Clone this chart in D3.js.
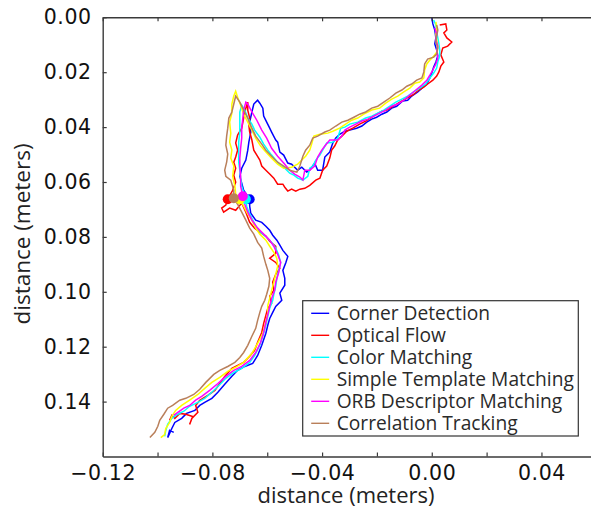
<!DOCTYPE html>
<html>
<head>
<meta charset="utf-8">
<script src="https://d3js.org/d3.v7.min.js"></script>
<style>
  body { margin: 0; background: #fff; }
  svg { display: block; }
</style>
</head>
<body>
<div id="chart"></div>
<script>
const w = 591;
const h = 510;
const axisColor = "#3a3a3a";
const textColor = "#222";

// distances in meters
const seriesNames = ["Corner Detection", "Optical Flow", "Color Matching",
    "Simple Template Matching", "ORB Descriptor Matching", "Correlation Tracking"];
const seriesColors = ["#0000ff", "#ff0000", "#00ffff", "#ffff00", "#ff00ff", "#b97f5a"];

const cornerDetection = [
    [0.0000, 0.0000], [0.0004, 0.0024], [0.0011, 0.0046], [0.0015, 0.0075], [0.0011, 0.0097],
    [0.0018, 0.0119], [0.0022, 0.0141], [0.0015, 0.0163], [0.0007, 0.0181], [0.0000, 0.0203],
    [-0.0007, 0.0221], [-0.0018, 0.0243], [-0.0036, 0.0258], [-0.0051, 0.0272], [-0.0073, 0.0287],
    [-0.0088, 0.0302], [-0.0106, 0.0305], [-0.0128, 0.0324], [-0.0146, 0.0331], [-0.0164, 0.0345],
    [-0.0182, 0.0353], [-0.0201, 0.0364], [-0.0219, 0.0371], [-0.0237, 0.0382], [-0.0255, 0.0396],
    [-0.0274, 0.0404], [-0.0299, 0.0411], [-0.0317, 0.0415], [-0.0336, 0.0426], [-0.0350, 0.0440],
    [-0.0361, 0.0458], [-0.0372, 0.0491], [-0.0390, 0.0509], [-0.0398, 0.0557], [-0.0416, 0.0557],
    [-0.0427, 0.0531], [-0.0445, 0.0557], [-0.0456, 0.0564], [-0.0474, 0.0546], [-0.0489, 0.0557],
    [-0.0511, 0.0535], [-0.0525, 0.0531], [-0.0540, 0.0502], [-0.0554, 0.0491], [-0.0562, 0.0455],
    [-0.0569, 0.0447], [-0.0584, 0.0418], [-0.0591, 0.0404], [-0.0602, 0.0382], [-0.0613, 0.0360],
    [-0.0616, 0.0331], [-0.0627, 0.0313], [-0.0635, 0.0302], [-0.0649, 0.0316], [-0.0656, 0.0345],
    [-0.0664, 0.0382], [-0.0660, 0.0418], [-0.0667, 0.0455], [-0.0671, 0.0484], [-0.0678, 0.0520],
    [-0.0693, 0.0550], [-0.0700, 0.0579], [-0.0693, 0.0604], [-0.0686, 0.0630], [-0.0664, 0.0663],
    [-0.0664, 0.0688], [-0.0660, 0.0714], [-0.0642, 0.0739], [-0.0620, 0.0747], [-0.0605, 0.0761],
    [-0.0591, 0.0776], [-0.0580, 0.0794], [-0.0565, 0.0812], [-0.0554, 0.0830], [-0.0543, 0.0849],
    [-0.0525, 0.0871], [-0.0532, 0.0893], [-0.0543, 0.0922], [-0.0536, 0.0951], [-0.0536, 0.0976],
    [-0.0554, 0.1005], [-0.0547, 0.1031], [-0.0569, 0.1053], [-0.0580, 0.1075], [-0.0591, 0.1097],
    [-0.0598, 0.1122], [-0.0605, 0.1151], [-0.0620, 0.1195], [-0.0635, 0.1232], [-0.0653, 0.1261],
    [-0.0682, 0.1272], [-0.0708, 0.1286], [-0.0729, 0.1308], [-0.0755, 0.1337], [-0.0780, 0.1366],
    [-0.0802, 0.1388], [-0.0828, 0.1403], [-0.0846, 0.1414], [-0.0864, 0.1432], [-0.0894, 0.1443],
    [-0.0912, 0.1461], [-0.0937, 0.1476], [-0.0948, 0.1498], [-0.0956, 0.1516], [-0.0963, 0.1531],
    [-0.0956, 0.1505], [-0.0941, 0.1512]
];

const opticalFlow = [
    [0.0029, 0.0028], [0.0051, 0.0024], [0.0055, 0.0046], [0.0044, 0.0057], [0.0055, 0.0075],
    [0.0073, 0.0090], [0.0058, 0.0105], [0.0040, 0.0112], [0.0033, 0.0137], [0.0044, 0.0163],
    [0.0033, 0.0178], [0.0026, 0.0199], [0.0018, 0.0214], [0.0004, 0.0229], [-0.0015, 0.0243],
    [-0.0029, 0.0254], [-0.0047, 0.0265], [-0.0069, 0.0283], [-0.0091, 0.0294], [-0.0109, 0.0305],
    [-0.0128, 0.0316], [-0.0146, 0.0327], [-0.0164, 0.0338], [-0.0182, 0.0342], [-0.0201, 0.0353],
    [-0.0219, 0.0364], [-0.0241, 0.0378], [-0.0263, 0.0389], [-0.0288, 0.0404], [-0.0310, 0.0415],
    [-0.0328, 0.0433], [-0.0343, 0.0447], [-0.0354, 0.0469], [-0.0365, 0.0484], [-0.0372, 0.0513],
    [-0.0383, 0.0542], [-0.0398, 0.0557], [-0.0408, 0.0586], [-0.0423, 0.0593], [-0.0445, 0.0612],
    [-0.0463, 0.0623], [-0.0481, 0.0626], [-0.0496, 0.0633], [-0.0511, 0.0626], [-0.0525, 0.0633],
    [-0.0536, 0.0619], [-0.0543, 0.0608], [-0.0562, 0.0608], [-0.0576, 0.0586], [-0.0591, 0.0571],
    [-0.0605, 0.0557], [-0.0620, 0.0542], [-0.0627, 0.0520], [-0.0638, 0.0502], [-0.0649, 0.0484],
    [-0.0656, 0.0447], [-0.0664, 0.0418], [-0.0667, 0.0393], [-0.0664, 0.0367], [-0.0671, 0.0338],
    [-0.0671, 0.0309], [-0.0678, 0.0331], [-0.0686, 0.0367], [-0.0693, 0.0404], [-0.0708, 0.0429],
    [-0.0715, 0.0458], [-0.0708, 0.0484], [-0.0715, 0.0509], [-0.0722, 0.0528], [-0.0715, 0.0550],
    [-0.0722, 0.0575], [-0.0715, 0.0601], [-0.0726, 0.0630], [-0.0744, 0.0663], [-0.0751, 0.0684],
    [-0.0766, 0.0695], [-0.0759, 0.0710], [-0.0737, 0.0695], [-0.0715, 0.0703], [-0.0693, 0.0677],
    [-0.0678, 0.0710], [-0.0664, 0.0747], [-0.0646, 0.0768], [-0.0627, 0.0783], [-0.0605, 0.0797],
    [-0.0591, 0.0816], [-0.0569, 0.0834], [-0.0569, 0.0860], [-0.0591, 0.0878], [-0.0569, 0.0893],
    [-0.0554, 0.0914], [-0.0569, 0.0936], [-0.0580, 0.0965], [-0.0576, 0.0995], [-0.0591, 0.1016],
    [-0.0584, 0.1042], [-0.0598, 0.1060], [-0.0605, 0.1086], [-0.0613, 0.1115], [-0.0620, 0.1148],
    [-0.0635, 0.1184], [-0.0646, 0.1213], [-0.0664, 0.1235], [-0.0686, 0.1257], [-0.0708, 0.1268],
    [-0.0729, 0.1279], [-0.0755, 0.1308], [-0.0773, 0.1334], [-0.0791, 0.1359], [-0.0817, 0.1377],
    [-0.0846, 0.1395], [-0.0861, 0.1414], [-0.0853, 0.1439], [-0.0875, 0.1461], [-0.0883, 0.1483],
    [-0.0872, 0.1454], [-0.0897, 0.1446], [-0.0919, 0.1443], [-0.0937, 0.1461], [-0.0948, 0.1450],
    [-0.0956, 0.1468]
];

const colorMatching = [
    [0.0007, 0.0010], [0.0015, 0.0028], [0.0018, 0.0054], [0.0022, 0.0075], [0.0026, 0.0097],
    [0.0029, 0.0119], [0.0029, 0.0141], [0.0022, 0.0163], [0.0018, 0.0185], [0.0007, 0.0203],
    [-0.0007, 0.0221], [-0.0022, 0.0243], [-0.0044, 0.0258], [-0.0066, 0.0272], [-0.0088, 0.0287],
    [-0.0109, 0.0298], [-0.0131, 0.0309], [-0.0153, 0.0324], [-0.0175, 0.0338], [-0.0197, 0.0349],
    [-0.0219, 0.0360], [-0.0241, 0.0367], [-0.0270, 0.0382], [-0.0299, 0.0389], [-0.0317, 0.0400],
    [-0.0332, 0.0404], [-0.0343, 0.0440], [-0.0361, 0.0455], [-0.0383, 0.0458], [-0.0398, 0.0484],
    [-0.0408, 0.0502], [-0.0423, 0.0520], [-0.0434, 0.0542], [-0.0445, 0.0550], [-0.0452, 0.0579],
    [-0.0470, 0.0593], [-0.0489, 0.0586], [-0.0503, 0.0575], [-0.0518, 0.0568], [-0.0536, 0.0550],
    [-0.0554, 0.0539], [-0.0569, 0.0520], [-0.0584, 0.0502], [-0.0598, 0.0484], [-0.0613, 0.0462],
    [-0.0627, 0.0437], [-0.0646, 0.0411], [-0.0656, 0.0389], [-0.0671, 0.0367], [-0.0682, 0.0338],
    [-0.0693, 0.0320], [-0.0700, 0.0345], [-0.0700, 0.0382], [-0.0700, 0.0418], [-0.0704, 0.0455],
    [-0.0704, 0.0491], [-0.0704, 0.0528], [-0.0700, 0.0557], [-0.0697, 0.0586], [-0.0693, 0.0615],
    [-0.0678, 0.0663], [-0.0675, 0.0688], [-0.0667, 0.0710], [-0.0656, 0.0732], [-0.0642, 0.0761],
    [-0.0620, 0.0787], [-0.0598, 0.0805], [-0.0584, 0.0820], [-0.0569, 0.0841], [-0.0558, 0.0867],
    [-0.0551, 0.0893], [-0.0558, 0.0922], [-0.0565, 0.0951], [-0.0569, 0.0980], [-0.0576, 0.1009],
    [-0.0580, 0.1031], [-0.0591, 0.1060], [-0.0598, 0.1089], [-0.0605, 0.1122], [-0.0613, 0.1151],
    [-0.0627, 0.1195], [-0.0646, 0.1232], [-0.0664, 0.1257], [-0.0693, 0.1279], [-0.0722, 0.1294],
    [-0.0751, 0.1315], [-0.0780, 0.1345], [-0.0802, 0.1366], [-0.0828, 0.1388], [-0.0853, 0.1403],
    [-0.0883, 0.1417], [-0.0904, 0.1435], [-0.0926, 0.1446], [-0.0948, 0.1461], [-0.0963, 0.1483],
    [-0.0970, 0.1505], [-0.0974, 0.1527]
];

const simpleTemplate = [
    [0.0015, 0.0017], [0.0018, 0.0039], [0.0015, 0.0061], [0.0018, 0.0083], [0.0022, 0.0105],
    [0.0018, 0.0127], [0.0004, 0.0145], [-0.0007, 0.0156], [-0.0018, 0.0170], [-0.0026, 0.0192],
    [-0.0029, 0.0221], [-0.0044, 0.0236], [-0.0062, 0.0240], [-0.0080, 0.0258], [-0.0102, 0.0272],
    [-0.0124, 0.0287], [-0.0146, 0.0298], [-0.0168, 0.0313], [-0.0190, 0.0331], [-0.0219, 0.0338],
    [-0.0248, 0.0353], [-0.0270, 0.0367], [-0.0292, 0.0375], [-0.0314, 0.0389], [-0.0336, 0.0404],
    [-0.0361, 0.0415], [-0.0379, 0.0422], [-0.0408, 0.0426], [-0.0430, 0.0433], [-0.0438, 0.0462],
    [-0.0445, 0.0484], [-0.0460, 0.0506], [-0.0474, 0.0520], [-0.0489, 0.0535], [-0.0511, 0.0546],
    [-0.0540, 0.0550], [-0.0562, 0.0535], [-0.0584, 0.0513], [-0.0605, 0.0491], [-0.0624, 0.0469],
    [-0.0642, 0.0440], [-0.0656, 0.0411], [-0.0671, 0.0382], [-0.0686, 0.0353], [-0.0697, 0.0320],
    [-0.0708, 0.0291], [-0.0715, 0.0269], [-0.0722, 0.0287], [-0.0729, 0.0316], [-0.0729, 0.0349],
    [-0.0737, 0.0382], [-0.0733, 0.0422], [-0.0737, 0.0455], [-0.0729, 0.0484], [-0.0733, 0.0513],
    [-0.0722, 0.0542], [-0.0726, 0.0579], [-0.0718, 0.0615], [-0.0715, 0.0644], [-0.0700, 0.0663],
    [-0.0686, 0.0688], [-0.0671, 0.0717], [-0.0656, 0.0739], [-0.0642, 0.0768], [-0.0627, 0.0790],
    [-0.0605, 0.0812], [-0.0591, 0.0834], [-0.0576, 0.0856], [-0.0565, 0.0878], [-0.0562, 0.0907],
    [-0.0569, 0.0936], [-0.0576, 0.0965], [-0.0584, 0.0995], [-0.0591, 0.1024], [-0.0598, 0.1049],
    [-0.0598, 0.1078], [-0.0605, 0.1111], [-0.0616, 0.1151], [-0.0635, 0.1188], [-0.0656, 0.1224],
    [-0.0686, 0.1257], [-0.0715, 0.1275], [-0.0744, 0.1290], [-0.0773, 0.1312], [-0.0802, 0.1330],
    [-0.0828, 0.1352], [-0.0853, 0.1374], [-0.0883, 0.1395], [-0.0912, 0.1414], [-0.0934, 0.1432],
    [-0.0948, 0.1454], [-0.0956, 0.1476], [-0.0970, 0.1498], [-0.0974, 0.1520], [-0.0988, 0.1531]
];

const orbDescriptor = [
    [0.0011, 0.0039], [0.0018, 0.0061], [0.0015, 0.0083], [0.0022, 0.0105], [0.0018, 0.0127],
    [0.0022, 0.0148], [0.0015, 0.0170], [0.0004, 0.0192], [-0.0007, 0.0211], [-0.0018, 0.0229],
    [-0.0036, 0.0247], [-0.0058, 0.0265], [-0.0080, 0.0283], [-0.0102, 0.0302], [-0.0124, 0.0316],
    [-0.0146, 0.0324], [-0.0168, 0.0338], [-0.0190, 0.0349], [-0.0212, 0.0360], [-0.0233, 0.0371],
    [-0.0255, 0.0378], [-0.0277, 0.0389], [-0.0299, 0.0400], [-0.0317, 0.0411], [-0.0328, 0.0433],
    [-0.0343, 0.0447], [-0.0372, 0.0447], [-0.0390, 0.0469], [-0.0401, 0.0484], [-0.0416, 0.0509],
    [-0.0427, 0.0542], [-0.0445, 0.0557], [-0.0463, 0.0557], [-0.0470, 0.0593], [-0.0481, 0.0582],
    [-0.0500, 0.0571], [-0.0518, 0.0557], [-0.0540, 0.0531], [-0.0562, 0.0506], [-0.0584, 0.0477],
    [-0.0602, 0.0440], [-0.0620, 0.0411], [-0.0638, 0.0375], [-0.0656, 0.0345], [-0.0671, 0.0316],
    [-0.0678, 0.0309], [-0.0686, 0.0338], [-0.0689, 0.0367], [-0.0693, 0.0404], [-0.0693, 0.0440],
    [-0.0697, 0.0477], [-0.0700, 0.0513], [-0.0700, 0.0542], [-0.0697, 0.0579], [-0.0697, 0.0615],
    [-0.0689, 0.0652], [-0.0682, 0.0681], [-0.0671, 0.0710], [-0.0656, 0.0739], [-0.0635, 0.0768],
    [-0.0613, 0.0790], [-0.0591, 0.0812], [-0.0576, 0.0834], [-0.0562, 0.0863], [-0.0551, 0.0893],
    [-0.0558, 0.0929], [-0.0569, 0.0965], [-0.0573, 0.0995], [-0.0584, 0.1024], [-0.0591, 0.1053],
    [-0.0598, 0.1082], [-0.0605, 0.1111], [-0.0613, 0.1148], [-0.0624, 0.1184], [-0.0642, 0.1221],
    [-0.0664, 0.1250], [-0.0693, 0.1272], [-0.0722, 0.1286], [-0.0751, 0.1308], [-0.0780, 0.1334],
    [-0.0810, 0.1359], [-0.0839, 0.1381], [-0.0861, 0.1395], [-0.0883, 0.1414], [-0.0904, 0.1424],
    [-0.0926, 0.1439], [-0.0941, 0.1450]
];

const correlationTracking = [
    [0.0018, 0.0028], [0.0022, 0.0046], [0.0018, 0.0068], [0.0015, 0.0090], [0.0022, 0.0112],
    [0.0018, 0.0134], [0.0007, 0.0145], [-0.0015, 0.0152], [-0.0026, 0.0170], [-0.0029, 0.0199],
    [-0.0036, 0.0221], [-0.0055, 0.0229], [-0.0073, 0.0243], [-0.0091, 0.0251], [-0.0109, 0.0265],
    [-0.0131, 0.0276], [-0.0153, 0.0294], [-0.0175, 0.0309], [-0.0197, 0.0324], [-0.0219, 0.0331],
    [-0.0241, 0.0345], [-0.0263, 0.0353], [-0.0284, 0.0364], [-0.0306, 0.0375], [-0.0328, 0.0382],
    [-0.0350, 0.0396], [-0.0372, 0.0411], [-0.0390, 0.0418], [-0.0416, 0.0433], [-0.0434, 0.0440],
    [-0.0445, 0.0466], [-0.0460, 0.0484], [-0.0470, 0.0506], [-0.0481, 0.0542], [-0.0492, 0.0564],
    [-0.0518, 0.0557], [-0.0540, 0.0542], [-0.0562, 0.0528], [-0.0584, 0.0506], [-0.0605, 0.0484],
    [-0.0620, 0.0462], [-0.0642, 0.0433], [-0.0656, 0.0404], [-0.0671, 0.0367], [-0.0686, 0.0338],
    [-0.0700, 0.0309], [-0.0715, 0.0287], [-0.0722, 0.0316], [-0.0729, 0.0345], [-0.0740, 0.0367],
    [-0.0744, 0.0404], [-0.0748, 0.0433], [-0.0751, 0.0466], [-0.0744, 0.0498], [-0.0748, 0.0528],
    [-0.0755, 0.0557], [-0.0751, 0.0579], [-0.0733, 0.0593], [-0.0722, 0.0630], [-0.0722, 0.0659],
    [-0.0708, 0.0681], [-0.0693, 0.0710], [-0.0678, 0.0739], [-0.0664, 0.0768], [-0.0649, 0.0790],
    [-0.0635, 0.0820], [-0.0620, 0.0841], [-0.0613, 0.0871], [-0.0605, 0.0900], [-0.0598, 0.0922],
    [-0.0591, 0.0951], [-0.0594, 0.0980], [-0.0602, 0.1009], [-0.0609, 0.1031], [-0.0620, 0.1053],
    [-0.0627, 0.1075], [-0.0635, 0.1104], [-0.0642, 0.1133], [-0.0656, 0.1162], [-0.0671, 0.1195],
    [-0.0686, 0.1221], [-0.0700, 0.1239], [-0.0718, 0.1257], [-0.0744, 0.1272], [-0.0773, 0.1286],
    [-0.0795, 0.1301], [-0.0824, 0.1330], [-0.0846, 0.1355], [-0.0868, 0.1374], [-0.0897, 0.1388],
    [-0.0919, 0.1395], [-0.0945, 0.1414], [-0.0963, 0.1424], [-0.0977, 0.1446], [-0.0992, 0.1468],
    [-0.0999, 0.1490], [-0.1010, 0.1512], [-0.1028, 0.1531]
];

// the dot each tracker leaves at the turning point
const markerPoints = [
    [-0.0664, 0.0663], [-0.0744, 0.0663], [-0.0678, 0.0663],
    [-0.0700, 0.0663], [-0.0689, 0.0652], [-0.0722, 0.0659]
];

const xDomain = [-0.12, 0.06];
const yDomain = [0, 0.16];
const xTickValues = [-0.12, -0.10, -0.08, -0.06, -0.04, -0.02, 0, 0.02, 0.04];
const xLabelValues = [-0.12, -0.08, -0.04, 0, 0.04];
const yTickValues = [0, 0.02, 0.04, 0.06, 0.08, 0.10, 0.12, 0.14];
const xTitle = "distance (meters)";
const yTitle = "distance (meters)";

const allSeries = [cornerDetection, opticalFlow, colorMatching,
    simpleTemplate, orbDescriptor, correlationTracking];

const plotLeft = 102.7, plotTop = 17.3, plotBottom = 456.5, plotRight = 596.3;

const x = d3.scaleLinear().domain(xDomain).range([plotLeft, plotRight]);
const y = d3.scaleLinear().domain(yDomain).range([plotTop, plotBottom]);

let svg = d3.select("#chart")
    .append("svg")
    .attr("width", w)
    .attr("height", h);

const fmt = d3.format(".2f");

// tracks
const line = d3.line().x(d => x(d[0])).y(d => y(d[1]));
const tracks = svg.append("g").attr("class", "tracks");
allSeries.forEach((s, i) => {
    tracks.append("path")
        .attr("d", line(s))
        .attr("fill", "none")
        .attr("stroke", seriesColors[i])
        .attr("stroke-width", 1.5)
        .attr("stroke-linejoin", "miter");
});

svg.append("g").selectAll("circle")
    .data(markerPoints)
    .join("circle")
    .attr("cx", d => x(d[0]))
    .attr("cy", d => y(d[1]))
    .attr("r", 5)
    .attr("fill", (d, i) => seriesColors[i]);

// axes, ticks pointing inward
const bottomAxis = d3.axisBottom(x).tickValues(xTickValues).tickSizeInner(-4).tickSizeOuter(0)
    .tickFormat(d => xLabelValues.some(v => Math.abs(v - d) < 1e-9) ? fmt(d) : "");
const topAxis = d3.axisTop(x).tickValues(xTickValues).tickSizeInner(-4).tickSizeOuter(0).tickFormat("");
const leftAxis = d3.axisLeft(y).tickValues(yTickValues).tickSizeInner(-4).tickSizeOuter(0).tickFormat(fmt);

function styleAxis(g) {
    g.select(".domain").attr("stroke", axisColor).attr("stroke-width", 1.4);
    g.selectAll(".tick line").attr("stroke", axisColor).attr("stroke-width", 1.2);
    g.selectAll("text")
        .attr("fill", "#111")
        .style("font-family", "'DejaVu Sans', sans-serif")
        .style("font-size", "20.5px")
        .style("letter-spacing", "0.6px");
}

svg.append("g")
    .attr("transform", `translate(0,${plotBottom})`)
    .call(bottomAxis)
    .call(styleAxis)
    .call(g => g.selectAll("text").attr("dy", "0.9em").attr("y", 5));

svg.append("g")
    .attr("transform", `translate(0,${plotTop})`)
    .call(topAxis)
    .call(styleAxis);

svg.append("g")
    .attr("transform", `translate(${plotLeft},0)`)
    .call(leftAxis)
    .call(styleAxis)
    .call(g => g.selectAll("text").attr("x", -11));

// axis titles
svg.append("text")
    .attr("x", 346)
    .attr("y", 503)
    .attr("text-anchor", "middle")
    .attr("fill", textColor)
    .style("font-family", "'Open Sans', sans-serif")
    .style("font-size", "22px")
    .text(xTitle);

svg.append("text")
    .attr("transform", "translate(30,234) rotate(-90)")
    .attr("text-anchor", "middle")
    .attr("fill", textColor)
    .style("font-family", "'Open Sans', sans-serif")
    .style("font-size", "22.5px")
    .text(yTitle);

// legend
const legend = svg.append("g").attr("transform", "translate(302.7,300.7)");
legend.append("rect")
    .attr("width", 275.6)
    .attr("height", 135.3)
    .attr("fill", "#fff")
    .attr("stroke", "#333")
    .attr("stroke-width", 1.2);

const rows = legend.selectAll("g.row")
    .data(seriesNames)
    .join("g")
    .attr("class", "row")
    .attr("transform", (d, i) => `translate(0,${12.6 + i * 22})`);

rows.append("line")
    .attr("x1", 8.5).attr("x2", 26.5)
    .attr("stroke", (d, i) => seriesColors[i])
    .attr("stroke-width", 1.4);

rows.append("text")
    .attr("x", 34)
    .attr("dy", "0.35em")
    .attr("fill", "#2a2a2a")
    .style("font-family", "'Open Sans', sans-serif")
    .style("font-size", "19.2px")
    .text(d => d);
</script>
</body>
</html>
